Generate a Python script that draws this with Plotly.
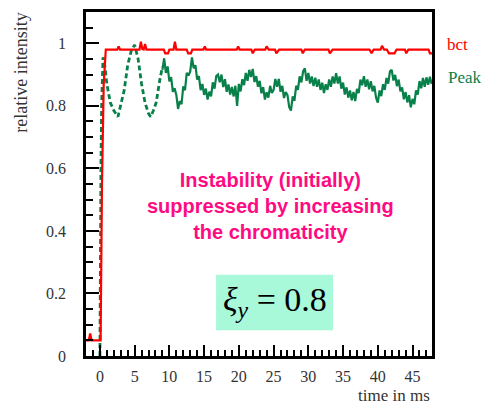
import plotly.graph_objects as go

# ---- data ----
bct_t = [-2, -1.6, -1.4, -1.2, 0.1, 0.2, 0.3, 0.55, 0.85, 2.5, 2.7, 2.9, 5.7, 5.9, 6.1, 6.3, 6.5, 6.7,
         9.2, 9.4, 9.8, 10.0, 10.6, 10.8, 11.0, 12.5, 12.7, 13.1, 13.3, 14.9, 15.1, 15.3, 19.7, 19.9, 20.1,
         21.8, 22.0, 22.3, 23.8, 24.0, 24.3, 25.2, 25.4, 25.8, 29.0, 29.2, 29.5, 32.9, 33.1, 33.5,
         38.8, 39.1, 39.4, 40.4, 40.6, 40.9, 41.3, 41.6, 42.4, 42.7, 43.9, 44.1, 44.4, 47.3, 47.5, 47.8]
bct_v = [0.05, 0.05, 0.072, 0.05, 0.05, 0.3, 0.55, 0.87, 0.98, 0.98, 0.99, 0.98, 0.98, 1.005, 0.982, 0.98, 0.998, 0.98,
         0.98, 0.968, 0.968, 0.98, 0.98, 1.005, 0.98, 0.98, 0.968, 0.968, 0.98, 0.98, 0.99, 0.98, 0.98, 0.99, 0.98,
         0.98, 0.968, 0.98, 0.98, 0.99, 0.98, 0.98, 0.968, 0.98, 0.98, 0.968, 0.98, 0.98, 0.968, 0.98,
         0.98, 0.968, 0.98, 0.98, 0.992, 0.98, 0.98, 0.968, 0.968, 0.98, 0.98, 0.968, 0.98, 0.98, 0.968, 0.968]

peak_early_t = [0.0, 0.05, 0.15, 0.25, 0.45, 0.7, 1.0, 1.5, 2.0, 2.6, 3.0, 3.5, 4.0, 4.5, 5.0, 5.5,
                6.0, 6.5, 7.0, 7.3, 7.7, 8.1, 8.6, 9.0]
peak_early_v = [0.0, 0.3, 0.6, 0.8, 0.955, 0.93, 0.87, 0.81, 0.785, 0.765, 0.8, 0.85, 0.93, 0.975, 0.995, 0.95,
                0.87, 0.81, 0.775, 0.765, 0.785, 0.81, 0.88, 0.925]

peak_t0 = 9.0
peak_dt = 0.25
peak_v = [
    0.915, 0.952, 0.905, 0.926, 0.878, 0.892, 0.845, 0.856,
    0.835, 0.790, 0.815, 0.805, 0.862, 0.850, 0.905, 0.897,
    0.910, 0.955, 0.920, 0.930, 0.884, 0.895, 0.850, 0.870,
    0.835, 0.855, 0.820, 0.845, 0.830, 0.875, 0.855, 0.895,
    0.900, 0.875, 0.900, 0.860, 0.885, 0.845, 0.868, 0.836,
    0.860, 0.830, 0.864, 0.800, 0.870, 0.846, 0.885, 0.866,
    0.905, 0.880, 0.915, 0.892, 0.918, 0.876, 0.895, 0.861,
    0.880, 0.840, 0.860, 0.820, 0.843, 0.826, 0.864, 0.841,
    0.851, 0.886, 0.861, 0.886, 0.845, 0.864, 0.825, 0.844,
    0.834, 0.796, 0.785, 0.830, 0.816, 0.864, 0.851, 0.894,
    0.875, 0.910, 0.920, 0.880, 0.905, 0.871, 0.894, 0.863,
    0.890, 0.861, 0.884, 0.851, 0.874, 0.841, 0.869, 0.851,
    0.884, 0.861, 0.894, 0.871, 0.904, 0.871, 0.894, 0.855,
    0.874, 0.836, 0.859, 0.826, 0.849, 0.818, 0.844, 0.815,
    0.854, 0.841, 0.884, 0.866, 0.895, 0.861, 0.884, 0.853,
    0.879, 0.846, 0.864, 0.826, 0.810, 0.849, 0.831, 0.869,
    0.851, 0.889, 0.871, 0.910, 0.915, 0.881, 0.899, 0.863,
    0.884, 0.846, 0.859, 0.821, 0.844, 0.811, 0.834, 0.795,
    0.822, 0.805, 0.849, 0.836, 0.879, 0.856, 0.889, 0.861,
    0.891, 0.867, 0.893, 0.870,
]
peak_t = [peak_t0 + i * peak_dt for i in range(len(peak_v))]

y_ticks = [0, 0.2, 0.4, 0.6, 0.8, 1]
y_labels = ["0", "0.2", "0.4", "0.6", "0.8", "1"]
x_ticks = [0, 5, 10, 15, 20, 25, 30, 35, 40, 45]

RED = "#ff0000"
GREEN = "#08804a"
PINK = "#ff0a82"
SERIF = "Times New Roman, Liberation Serif, DejaVu Serif, serif"

fig = go.Figure()
fig.add_trace(go.Scatter(x=peak_early_t, y=peak_early_v, mode="lines",
                         line=dict(color=GREEN, width=2.8, dash="5px,3px"), showlegend=False))
fig.add_trace(go.Scatter(x=peak_t, y=peak_v, mode="lines",
                         line=dict(color=GREEN, width=2.2), showlegend=False))
fig.add_trace(go.Scatter(x=bct_t, y=bct_v, mode="lines",
                         line=dict(color=RED, width=2.2), showlegend=False))

axis_common = dict(showline=True, linecolor="black", linewidth=2.5, mirror=True,
                   ticks="inside", tickcolor="black", tickwidth=2, showgrid=False, zeroline=False,
                   tickfont=dict(family=SERIF, size=16, color="#333333"))

fig.update_xaxes(range=[-2, 47.8], tickvals=x_ticks, ticklen=11,
                 minor=dict(dtick=1, tick0=0, ticklen=6, ticks="inside", tickcolor="black", tickwidth=2),
                 ticklabelstandoff=4, **axis_common)
fig.update_yaxes(range=[0, 1.1], tickvals=y_ticks, ticktext=y_labels, ticklen=13,
                 minor=dict(dtick=0.05, tick0=0, ticklen=7, ticks="inside", tickcolor="black", tickwidth=2),
                 ticklabelstandoff=14, **axis_common)

fig.add_shape(type="rect", xref="paper", yref="paper", x0=0.376, x1=0.714, y0=0.075, y1=0.236,
              fillcolor="#a8f8da", line=dict(width=0), layer="above")

ann = [
    dict(text="relative intensity", x=-0.19, y=0.824, textangle=-90, xanchor="center", yanchor="middle",
         font=dict(family=SERIF, size=18, color="#333333")),
    dict(text="time in ms", x=1.0, y=-0.115, xanchor="right", yanchor="middle",
         font=dict(family=SERIF, size=17, color="#333333")),
    dict(text="bct", x=1.037, y=0.905, xanchor="left", yanchor="middle",
         font=dict(family=SERIF, size=17, color=RED)),
    dict(text="Peak", x=1.04, y=0.81, xanchor="left", yanchor="middle",
         font=dict(family=SERIF, size=17, color=GREEN)),
    dict(text="<b>Instability (initially)<br>suppressed by increasing<br>the chromaticity</b>",
         x=0.532, y=0.435, xanchor="center", yanchor="middle", align="center",
         font=dict(family="Liberation Sans", size=20, color=PINK)),
    dict(text="<i>ξ<sub>y</sub></i> = 0.8", x=0.546, y=0.156, xanchor="center", yanchor="middle",
         font=dict(family=SERIF, size=34, color="black")),
]
for a in ann:
    fig.add_annotation(xref="paper", yref="paper", showarrow=False, **a)

fig.update_layout(width=486, height=410, margin=dict(l=86, r=54, t=9, b=54),
                  plot_bgcolor="white", paper_bgcolor="white")

fig.write_html("out.html")
